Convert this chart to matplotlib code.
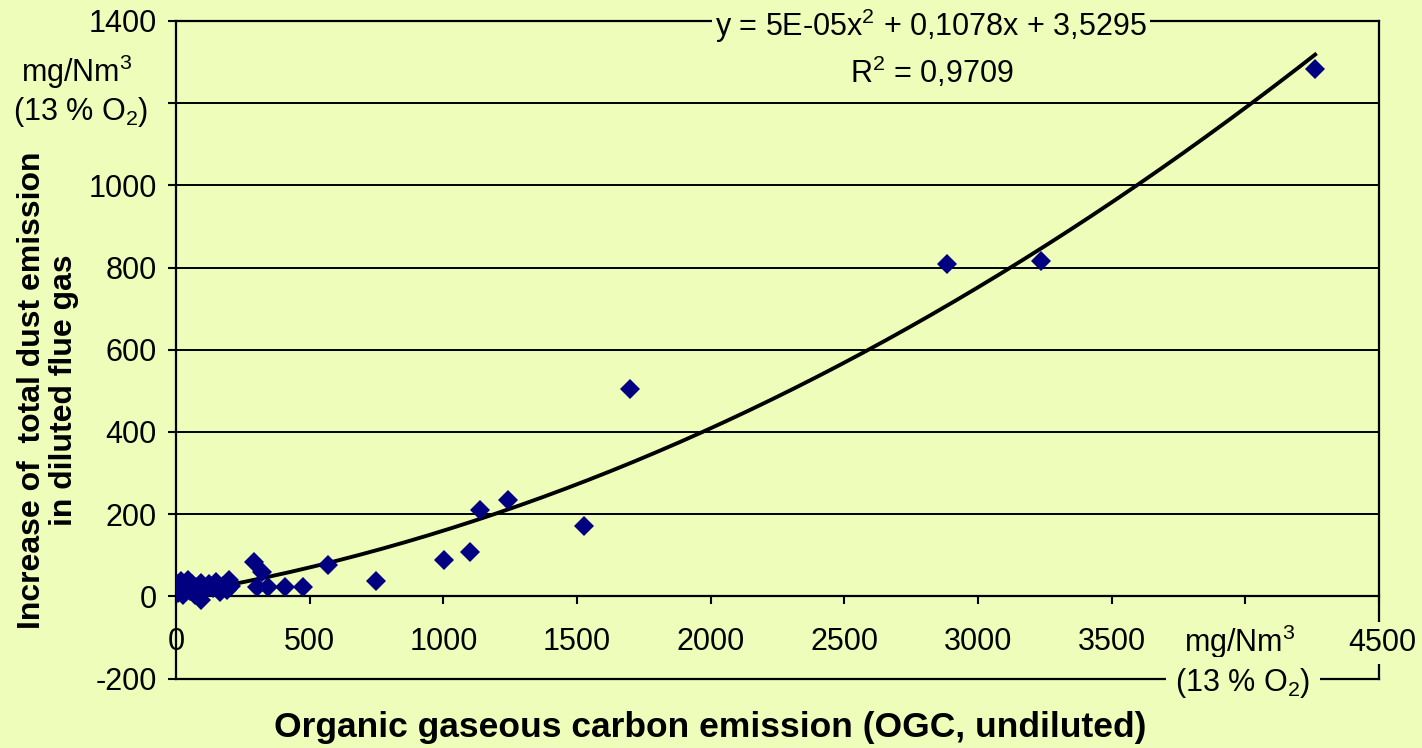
import numpy as np
import matplotlib.pyplot as plt

""" Data """
ogc = [5, 8, 12, 20, 28, 35, 45, 52, 60, 70, 80, 92, 95, 110, 125, 140, 150, 165, 175, 190, 200, 205,
       292, 302, 320, 345, 407, 476, 568, 747, 1004, 1100, 1136, 1241, 1525, 1698, 2885, 3237, 4261]
dust = [30, 8, 18, 38, 2, 25, 40, 12, 30, 2, 22, -10, 32, 15, 30, 20, 35, 10, 25, 15, 40, 25,
        83, 23, 60, 23, 23, 23, 77, 37, 89, 107, 211, 234, 170, 504, 809, 815, 1284]

x_ticks = [0, 500, 1000, 1500, 2000, 2500, 3000, 3500, 4000, 4500]
x_tick_labels = ['0', '500', '1000', '1500', '2000', '2500', '3000', '3500', '', '']
y_ticks = [-200, 0, 200, 400, 600, 800, 1000, 1200, 1400]
y_tick_labels = ['-200', '0', '200', '400', '600', '800', '1000', '', '1400']

eq_text = 'y = 5E-05x$^2$ + 0,1078x + 3,5295'
r2_text = 'R$^2$ = 0,9709'

bg = '#EEFDB9'
fs = 22

plt.rcParams['font.family'] = 'Liberation Sans'
plt.rcParams['mathtext.fontset'] = 'custom'
plt.rcParams['mathtext.rm'] = 'Liberation Sans'
plt.rcParams['mathtext.it'] = 'Liberation Sans'

""" Plot """
fig = plt.figure(figsize=(14.22, 7.48), dpi=100, facecolor=bg)
ax = fig.add_axes([176 / 1422, 1 - 678.5 / 748, 1203 / 1422, 657.5 / 748])
ax.set_facecolor(bg)

# quadratic trendline through the points
coef = np.polyfit(ogc, dust, 2)
xs = np.linspace(0, max(ogc), 200)
ax.plot(xs, np.polyval(coef, xs), color='black', lw=2.8, zorder=3)
ax.plot(ogc, dust, 'D', color='#000080', markersize=10.5, mew=0, zorder=4)

ax.set_xlim(0, 4500)
ax.set_ylim(-200, 1400)
ax.set_xticks(x_ticks)
ax.set_xticklabels(x_tick_labels)
ax.set_yticks(y_ticks)
ax.set_yticklabels(y_tick_labels)
ax.tick_params(axis='both', labelsize=fs, length=6, width=1.5, direction='out')
ax.tick_params(axis='x', pad=16)
ax.tick_params(axis='y', pad=8)
ax.grid(axis='y', color='black', lw=1.4)
ax.set_axisbelow(True)
ax.spines['bottom'].set_position(('data', 0))
for s in ax.spines.values():
    s.set_linewidth(1.6)
ax.axhline(-200, color='black', lw=1.6, clip_on=False, zorder=2)

box = dict(boxstyle='square,pad=0.1', fc=bg, ec='none')
ax.text((931 - 176) / 1203, 1 - (26 - 21) / 657.5, eq_text, transform=ax.transAxes,
        ha='center', va='center', fontsize=fs, bbox=box, zorder=6)
ax.text((932 - 176) / 1203, 1 - (72 - 21) / 657.5, r2_text, transform=ax.transAxes,
        ha='center', va='center', fontsize=fs, zorder=6)

# axis units
fig.text(77 / 1422, 1 - 72 / 748, 'mg/Nm$^3$', ha='center', va='center', fontsize=fs)
fig.text(81 / 1422, 1 - 112 / 748, '(13 % O$_2$)', ha='center', va='center', fontsize=fs)
fig.text(1240 / 1422, 1 - 642 / 748, 'mg/Nm$^3$', ha='center', va='center', fontsize=fs)
fig.text(1243 / 1422, 1 - 683 / 748, '(13 % O$_2$)', ha='center', va='center', fontsize=fs,
         bbox=dict(boxstyle='square,pad=0.3', fc=bg, ec='none'), zorder=6)
fig.text(1382 / 1422, 1 - 643 / 748, '4500', ha='center', va='center', fontsize=fs,
         bbox=dict(boxstyle='square,pad=0.2', fc=bg, ec='none'), zorder=6)

fig.text(710 / 1422, 1 - 727 / 748, 'Organic gaseous carbon emission (OGC, undiluted)',
         ha='center', va='center', fontsize=25.5, fontweight='bold')
fig.text(48 / 1422, 1 - 390 / 748, 'Increase of  total dust emission\nin diluted flue gas',
         ha='center', va='center', rotation=90, fontsize=23, fontweight='bold', linespacing=1.1)

fig.savefig('out.png', dpi=100, facecolor=bg)
